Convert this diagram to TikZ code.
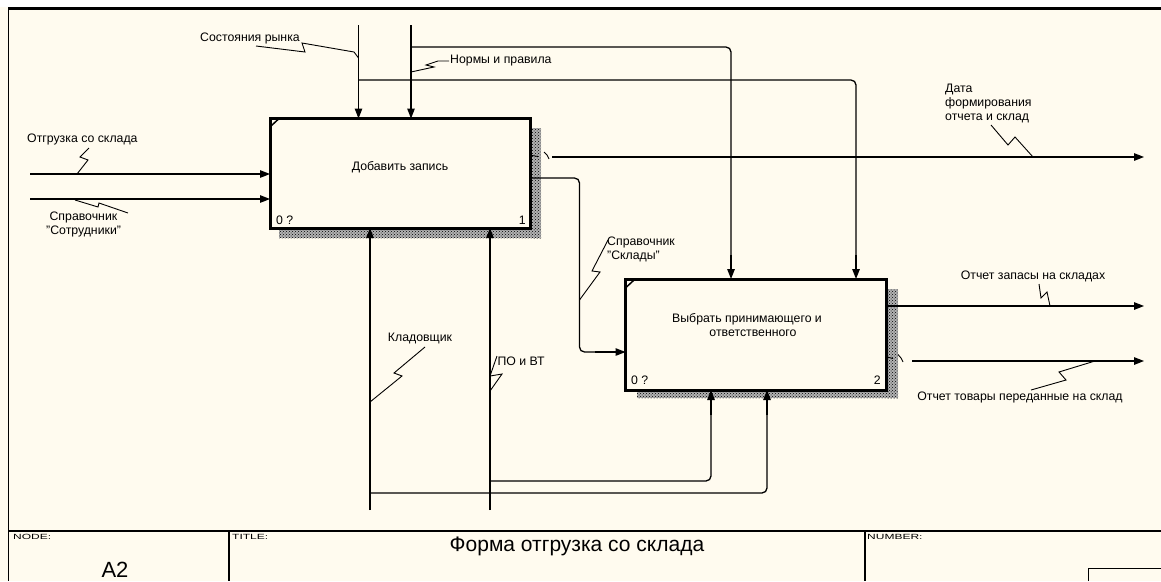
\documentclass[tikz,border=0pt]{standalone}
\usepackage{fontspec}
\setmainfont{Liberation Sans}
\newfontfamily\widef[FakeStretch=1.6]{Liberation Sans}
\usetikzlibrary{arrows.meta,patterns}
\definecolor{cream}{HTML}{FFFBEF}
\newcommand\lblf{\fontsize{12.3pt}{14pt}\selectfont}
\begin{document}
\begin{tikzpicture}[x=1pt,y=-1pt,
  box/.style={draw, line width=3pt, fill=cream, inner sep=0pt, outer sep=0pt},
  arr/.style={line width=1.3pt, -{Triangle[length=10pt,width=7.5pt]}},
  ln/.style={line width=1.3pt},
  sq/.style={line width=0.9pt, line join=miter},
  lbl/.style={font=\lblf, inner sep=0pt, text=black},
  shade/.style={fill=black!30, postaction={pattern=crosshatch dots, pattern color=black}},
  frame/.style={line width=2.2pt},
  rc/.style={rounded corners=5pt}
]
\useasboundingbox (0,0) rectangle (1161,581);
\fill[cream] (0,0) rectangle (1161,581);
\fill[white] (0,0) rectangle (1161,7);
% frame and title block
\draw[frame] (8,8.5) -- (1161,8.5);
\draw[line width=1.5pt] (8.5,8) -- (8.5,581);
\draw[frame] (8,531) -- (1161,531);
\draw[line width=1.2pt] (229,531) -- (229,581);
\draw[line width=1.2pt] (865,531) -- (865,581);
\draw[line width=1.2pt] (1088.5,581) -- (1088.5,568.5) -- (1161,568.5);
\node[inner sep=0pt, anchor=west, font=\widef\fontsize{7.5pt}{8pt}\selectfont] (tnode) at (13,537) {NODE:};
\node[inner sep=0pt, anchor=west, font=\widef\fontsize{7.5pt}{8pt}\selectfont] (ttitle) at (232,537) {TITLE:};
\node[inner sep=0pt, anchor=west, font=\widef\fontsize{7.5pt}{8pt}\selectfont] (tnum) at (867,537) {NUMBER:};
\node[inner sep=0pt, anchor=base, font=\fontsize{21pt}{24pt}\selectfont] (ttext) at (577,551) {Форма отгрузка со склада};
\node[inner sep=0pt, anchor=base, font=\fontsize{22pt}{24pt}\selectfont] (tA) at (115,577) {A2};

% shadows
\fill[shade] (532,128) rectangle (541,238);
\fill[shade] (279,229.5) rectangle (541,238);
\fill[shade] (887.5,289) rectangle (898,398);
\fill[shade] (637,391.5) rectangle (898,398);

% boxes
\node[box, minimum width=260pt, minimum height=109.5pt] (b1) at (400,173.25) {};
\node[box, minimum width=260.5pt, minimum height=111pt] (b2) at (755.75,334.5) {};
\draw[line width=1.5pt] (271,126) -- (278,119.5);
\draw[line width=1.5pt] (626.5,287) -- (633.5,280.5);
\node[lbl] (t1) at (400,167) {Добавить запись};
\node[lbl, anchor=west] (n1a) at (276,220) {0 ?};
\node[lbl, anchor=east] (n1b) at (526,220) {1};
\node[lbl] (t2a) at (747,319) {Выбрать принимающего и};
\node[lbl] (t2b) at (753,333) {ответственного};
\node[lbl, anchor=west] (n2a) at (631,380) {0 ?};
\node[lbl, anchor=east] (n2b) at (881,380) {2};

% coordinates
\coordinate (c1top) at (358.5,25);
\coordinate (c2top) at (411,25);
\coordinate (in1) at (30,174);
\coordinate (in2) at (30,199);
\coordinate (m1bot) at (370,510);
\coordinate (m2bot) at (490,510);
\coordinate (o1end) at (1144,157);
\coordinate (o2end) at (1144,306);
\coordinate (o3end) at (1144,361);
\coordinate (k1) at (731,255);
\coordinate (k2) at (856,255);
\coordinate (k3) at (711,415);
\coordinate (k4) at (767,415);
\coordinate (k5) at (595,352);

% controls of box 1
\draw[arr] (c1top) -- (c1top |- b1.north);
\draw[arr] (c2top) -- (c2top |- b1.north);
% branches to box 2
\draw[ln, rc] (411,47) -- (731,47) -- (731,260);
\draw[arr] (k1) -- (k1 |- b2.north);
\draw[ln, rc] (358.5,80) -- (856,80) -- (856,260);
\draw[arr] (k2) -- (k2 |- b2.north);

% inputs of box 1
\draw[arr] (in1) -- (in1 -| b1.west);
\draw[arr] (in2) -- (in2 -| b1.west);

% mechanisms of box 1
\draw[arr] (m1bot) -- (m1bot |- b1.south);
\draw[arr] (m2bot) -- (m2bot |- b1.south);
% mechanisms of box 2
\draw[ln, rc] (490,481) -- (711,481) -- (711,410);
\draw[arr] (k3) -- (k3 |- b2.south);
\draw[ln, rc] (370,493) -- (767,493) -- (767,410);
\draw[arr] (k4) -- (k4 |- b2.south);

% box 1 outputs
\draw[sq] (532,155.5) -- (538,156.5);
\draw[sq] (544,152) -- (547,155) -- (549,159);
\draw[arr] (552,157) -- (o1end);
\draw[ln, rc] (530,178) -- (579.5,178) -- (579.5,352) -- (600,352);
\draw[arr] (k5) -- (k5 -| b2.west);

% box 2 outputs
\draw[arr] (b2.east |- o2end) -- (o2end);
\draw[sq] (887,357) -- (893,358.5);
\draw[sq] (898,354.5) -- (901,358) -- (903,362);
\draw[arr] (912,361) -- (o3end);

% labels and squiggles
\node[lbl, anchor=west] (lsr) at (200,38) {Состояния рынка};
\draw[sq] (256,46) -- (305,52) -- (302,43) -- (354,52) -- (358.5,58);
\node[lbl, anchor=west] (lnp) at (450,61) {Нормы и правила};
\draw[sq] (449,61) -- (438,61) -- (426,65) -- (434,67) -- (411,72);
\node[lbl, anchor=west] (lot) at (27,139) {Отгрузка со склада};
\draw[sq] (89,148) -- (80,157) -- (88,160) -- (77,174);
\node[lbl, anchor=west, align=left] (lss) at (46,224.5) {\ Справочник\\"Сотрудники"};
\draw[sq] (75,200) -- (98,207) -- (99,203) -- (128,213);
\node[lbl, anchor=west, align=left, font=\fontsize{12.3pt}{14.2pt}\selectfont] (ldf) at (945,103.5) {Дата\\формирования\\отчета и склад};
\draw[sq] (991,125) -- (1008,145) -- (1015,137) -- (1033,157);
\node[lbl, anchor=west, align=left] (lsk) at (607,249) {Справочник\\"Склады"};
\draw[sq] (608,240) -- (592,271) -- (600,272) -- (579.5,300);
\node[lbl] (lzs) at (1033,276) {Отчет запасы на складах};
\draw[sq] (1039,284) -- (1041,298) -- (1047,292) -- (1050,306);
\node[lbl] (ltp) at (1020,397) {Отчет товары переданные на склад};
\draw[sq] (1031,390) -- (1066,380) -- (1059,372) -- (1095,361);
\node[lbl] (lkl) at (420,338) {Кладовщик};
\draw[sq] (425,347) -- (394,373) -- (402,376) -- (370,402);
\node[lbl] (lpo) at (521,361) {ПО и ВТ};
\draw[sq] (497,356) -- (490,376) -- (502,374) -- (490,391);
\end{tikzpicture}
\end{document}
